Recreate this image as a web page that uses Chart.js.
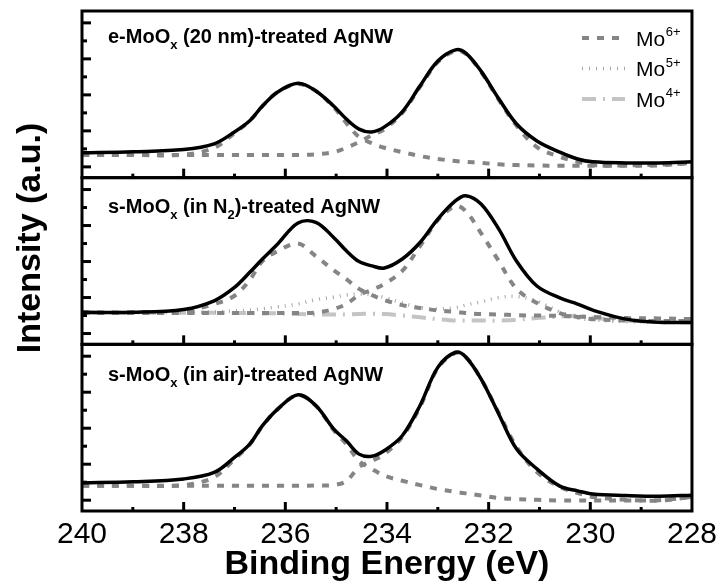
<!DOCTYPE html>
<html><head><meta charset="utf-8">
<script src="https://cdn.jsdelivr.net/npm/chart.js@4"></script>
<style>html,body{margin:0;padding:0;background:#fff;}#wrap{width:723px;height:587px;position:relative;}</style>
</head><body><div id="wrap"><canvas id="c" width="723" height="587"></canvas></div>
<script>
// ---- data (binding energy in eV, intensity in arbitrary units) ----
const energy = [240, 239, 238, 237.4, 237, 236.7, 236.45, 236.15, 235.75, 235.4, 235.05, 234.8, 234.55, 234.3, 234.05, 233.7, 233.35, 233, 232.65, 232.45, 232.15, 231.8, 231.45, 231.05, 230.6, 230.25, 229.95, 229.3, 228.65, 228];
const xMajorTicks = [240, 238, 236, 234, 232, 230, 228];
const xMinorTicks = [239, 237, 235, 233, 231, 229];
const yMajorTicks = [0.3, 1.3, 2.3, 3.3, 4.3];
const yMinorTicks = [0.8, 1.8, 2.8, 3.8];

// panel 1: e-MoOx (20 nm)
const eTotal  = [0.69,0.72,0.78,0.94,1.27,1.58,1.99,2.38,2.62,2.41,1.99,1.63,1.35,1.27,1.41,1.83,2.55,3.24,3.55,3.46,2.96,2.19,1.49,1.02,0.71,0.52,0.44,0.41,0.41,0.44];
const eMo6Hi  = [0.63,0.63,0.64,0.83,1.24,1.58,1.99,2.38,2.60,2.41,1.96,1.52,1.13,0.96,0.83,0.71,0.60,0.52,0.46,0.44,0.41,0.37,0.35,0.34,0.33,0.33,0.33,0.34,0.36,0.40];
const eMo6Lo  = [0.63,0.63,0.63,0.63,0.63,0.63,0.63,0.63,0.63,0.65,0.71,0.83,0.99,1.18,1.35,1.80,2.52,3.21,3.52,3.44,2.94,2.16,1.44,0.85,0.58,0.44,0.35,0.33,0.34,0.41];

// panel 2: s-MoOx (in N2)
const nTotal  = [0.89,0.89,0.97,1.21,1.58,2.00,2.37,2.79,3.37,3.39,2.97,2.60,2.30,2.18,2.12,2.37,2.83,3.48,3.99,4.13,3.90,3.20,2.31,1.62,1.29,1.12,0.95,0.70,0.61,0.61];
const nMo6Hi  = [0.89,0.89,0.93,1.12,1.35,1.79,2.31,2.59,2.80,2.45,2.06,1.81,1.54,1.37,1.23,1.09,1.01,0.94,0.90,0.87,0.84,0.83,0.81,0.80,0.79,0.77,0.76,0.73,0.72,0.70];
const nMo6Lo  = [0.87,0.87,0.87,0.87,0.87,0.87,0.87,0.87,0.87,0.88,0.98,1.12,1.37,1.51,1.68,2.04,2.73,3.45,3.84,3.70,3.09,2.31,1.54,1.15,0.87,0.76,0.70,0.66,0.65,0.65];
const nMo5    = [0.88,0.88,0.89,0.90,0.93,0.95,0.99,1.04,1.12,1.24,1.31,1.37,1.40,1.37,1.30,1.15,1.02,0.98,1.02,1.09,1.18,1.30,1.33,1.20,0.90,0.73,0.68,0.63,0.62,0.62];
const nMo4    = [0.88,0.88,0.88,0.88,0.87,0.87,0.86,0.86,0.84,0.83,0.83,0.83,0.84,0.85,0.84,0.80,0.75,0.70,0.66,0.66,0.66,0.66,0.68,0.73,0.77,0.79,0.74,0.66,0.62,0.61];

// panel 3: s-MoOx (in air)
const aTotal  = [0.78,0.81,0.89,1.07,1.49,1.86,2.37,2.83,3.23,2.93,2.28,1.95,1.58,1.52,1.68,2.09,2.93,3.99,4.41,4.28,3.67,2.69,1.72,1.17,0.69,0.56,0.47,0.43,0.41,0.44];
const aMo6Hi  = [0.70,0.70,0.72,0.94,1.44,1.85,2.36,2.83,3.22,2.92,2.25,1.86,1.39,1.17,0.98,0.84,0.72,0.61,0.53,0.49,0.43,0.36,0.33,0.31,0.29,0.29,0.29,0.29,0.30,0.39];
const aMo6Lo  = [0.70,0.70,0.70,0.70,0.70,0.70,0.70,0.70,0.70,0.71,0.72,0.83,1.22,1.39,1.58,2.06,2.89,3.97,4.39,4.28,3.67,2.72,1.78,1.08,0.67,0.50,0.39,0.31,0.29,0.39];

const legendLabels = [['Mo', '6+'], ['Mo', '5+'], ['Mo', '4+']];
const panelLabels = [
  [['e-MoO', 0], ['x', 1], [' (20 nm)-treated AgNW', 0]],
  [['s-MoO', 0], ['x', 1], [' (in N', 0], ['2', 1], [')-treated AgNW', 0]],
  [['s-MoO', 0], ['x', 1], [' (in air)-treated AgNW', 0]]
];
const xTitle = 'Binding Energy (eV)';
const yTitle = 'Intensity (a.u.)';

// ---- styles ----
const FAM = '"Liberation Sans", Arial, Helvetica, sans-serif';
const ST = {
  total: {borderColor: '#000000', borderWidth: 3.5, borderDash: [], borderJoinStyle: 'round', borderCapStyle: 'round'},
  mo6:   {borderColor: '#858585', borderWidth: 4, borderDash: [7, 8], borderCapStyle: 'butt'},
  mo5:   {borderColor: '#a6a6a6', borderWidth: 3.5, borderDash: [1, 6], borderCapStyle: 'butt'},
  mo4:   {borderColor: '#c4c4c4', borderWidth: 4, borderDash: [14, 7, 2, 7], borderCapStyle: 'butt'}
};
const Y_MAX = 4.63;

function series(vals, axis, style) {
  return Object.assign({
    data: energy.map((e, i) => ({x: e, y: vals[i]})),
    yAxisID: axis, pointRadius: 0, fill: false, tension: 0.35
  }, style);
}

const datasets = [
  series(eTotal, 'y1', ST.total), series(nTotal, 'y2', ST.total), series(aTotal, 'y3', ST.total),
  series(eMo6Hi, 'y1', ST.mo6), series(eMo6Lo, 'y1', ST.mo6),
  series(nMo6Hi, 'y2', ST.mo6), series(nMo6Lo, 'y2', ST.mo6),
  series(aMo6Hi, 'y3', ST.mo6), series(aMo6Lo, 'y3', ST.mo6),
  series(nMo5, 'y2', ST.mo5), series(nMo4, 'y2', ST.mo4)
];

function yAxis(w) {
  return {
    type: 'linear', position: 'left', stack: 'panels', stackWeight: 1, weight: w,
    min: 0, max: Y_MAX, grid: {display: false, drawTicks: false}, border: {display: false},
    ticks: {display: false}, afterFit(s) { s.width = 0; }
  };
}

function richText(ctx, parts, x, y, size, subSize, subDrop, bold) {
  let cx = x;
  parts.forEach(([t, sub]) => {
    ctx.font = (bold ? 'bold ' : '') + (sub ? subSize : size) + 'px ' + FAM;
    ctx.fillText(t, cx, y + (sub ? subDrop : 0));
    cx += ctx.measureText(t).width;
  });
}

const decor = {
  id: 'decor',
  afterDraw(chart) {
    const ctx = chart.ctx, xs = chart.scales.x, A = chart.chartArea;
    const L = A.left, R = A.right;
    const panels = ['y1', 'y2', 'y3'].map(id => chart.scales[id]);
    ctx.save();
    ctx.strokeStyle = '#000'; ctx.setLineDash([]); ctx.lineCap = 'butt';
    const seg = (x1, y1, x2, y2) => { ctx.beginPath(); ctx.moveTo(x1, y1); ctx.lineTo(x2, y2); ctx.stroke(); };
    panels.forEach(ys => {
      ctx.lineWidth = 3;
      xMajorTicks.forEach(v => { const p = xs.getPixelForValue(v); if (p > L + 3 && p < R - 3) seg(p, ys.bottom, p, ys.bottom - 9); });
      xMinorTicks.forEach(v => { const p = xs.getPixelForValue(v); seg(p, ys.bottom, p, ys.bottom - 4); });
      yMajorTicks.forEach(v => { const p = ys.getPixelForValue(v); seg(L, p, L + 9, p); });
      yMinorTicks.forEach(v => { const p = ys.getPixelForValue(v); seg(L, p, L + 5, p); });
      ctx.strokeRect(L, ys.top, R - L, ys.bottom - ys.top);
    });
    // panel labels
    ctx.fillStyle = '#000'; ctx.textAlign = 'left'; ctx.textBaseline = 'alphabetic';
    const labelDrop = [32, 35, 37];
    panels.forEach((ys, i) => richText(ctx, panelLabels[i], L + 26, ys.top + labelDrop[i], 20, 13, 6, true));
    // legend
    const legStyles = [ST.mo6, ST.mo5, ST.mo4];
    const rows = [38, 68.5, 99];
    legStyles.forEach((s, i) => {
      ctx.save();
      ctx.strokeStyle = s.borderColor; ctx.lineWidth = s.borderWidth; ctx.setLineDash(s.borderDash); ctx.lineCap = 'butt';
      seg(582, rows[i], 625, rows[i]);
      ctx.restore();
      ctx.fillStyle = '#000';
      ctx.font = '21px ' + FAM;
      ctx.fillText(legendLabels[i][0], 636, rows[i] + 7.5);
      const w = ctx.measureText(legendLabels[i][0]).width;
      ctx.font = '13px ' + FAM;
      ctx.fillText(legendLabels[i][1], 636 + w + 0.5, rows[i] - 2);
    });
    // y title
    ctx.save();
    ctx.translate(40, 238); ctx.rotate(-Math.PI / 2);
    ctx.font = 'bold 34px ' + FAM; ctx.textAlign = 'center'; ctx.textBaseline = 'alphabetic';
    ctx.fillText(yTitle, 0, 0);
    ctx.restore();
    ctx.restore();
  }
};

Chart.defaults.font.family = FAM;
new Chart(document.getElementById('c'), {
  type: 'line',
  data: {datasets},
  options: {
    responsive: false, animation: false,
    layout: {padding: {left: 82, right: 31, top: 11, bottom: 0}},
    plugins: {legend: {display: false}, tooltip: {enabled: false}},
    scales: {
      x: {
        type: 'linear', position: 'bottom', reverse: true, min: 228, max: 240,
        grid: {display: false, drawTicks: false}, border: {display: false},
        afterBuildTicks(s) { s.ticks = xMajorTicks.map(v => ({value: v})); },
        ticks: {color: '#000', font: {size: 30}, padding: 6, maxRotation: 0, autoSkip: false},
        title: {display: true, text: xTitle, color: '#000', font: {size: 34, weight: 'bold', lineHeight: 1}, padding: {top: 0, bottom: 5}},
        afterFit(s) { s.height = 76; }
      },
      y3: yAxis(1), y2: yAxis(2), y1: yAxis(3)
    }
  },
  plugins: [decor]
});
</script></body></html>
